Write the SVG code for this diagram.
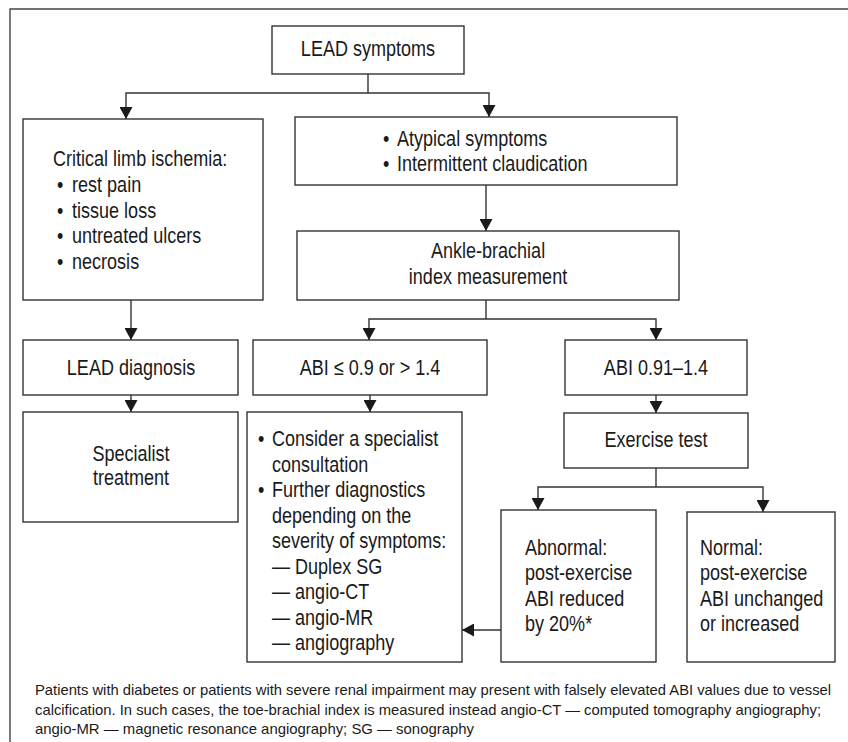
<svg xmlns="http://www.w3.org/2000/svg" width="848" height="742" viewBox="0 0 848 742">
  <defs>
    <marker id="arrow" markerUnits="userSpaceOnUse" markerWidth="13" markerHeight="13" refX="12" refY="6.5" orient="auto">
      <path d="M0,0 L12,6.5 L0,13 Z" fill="#1a1a1a"/>
    </marker>
    <style>
      .box { fill: #fff; stroke: #333; stroke-width: 1.4; }
      .frame { fill: none; stroke: #444; stroke-width: 1.4; }
      .link { fill: none; stroke: #333; stroke-width: 1.4; }
      .arr { marker-end: url(#arrow); }
      text { font-family: "Liberation Sans", Arial, sans-serif; fill: #1a1a1a; }
      .t { font-size: 22px; }
      .c { text-anchor: middle; }
      .note { font-size: 15px; }
    </style>
  </defs>

  <!-- outer frame (left and top edges) -->
  <path class="frame" d="M10,742 V9 H848"/>

  <!-- connectors -->
  <g id="connectors">
    <path class="link" d="M368,74 V93"/>
    <path class="link arr" d="M368,93 H126 V119"/>
    <path class="link arr" d="M368,93 H489 V117"/>
    <path class="link arr" d="M486,185 V231"/>
    <path class="link arr" d="M131,300 V340"/>
    <path class="link arr" d="M131,395 V412"/>
    <path class="link" d="M486,300 V319"/>
    <path class="link arr" d="M486,319 H369 V340"/>
    <path class="link arr" d="M486,319 H656 V340"/>
    <path class="link arr" d="M370,395 V412"/>
    <path class="link arr" d="M656,395 V413"/>
    <path class="link" d="M656,468 V487"/>
    <path class="link arr" d="M656,487 H538 V510"/>
    <path class="link arr" d="M656,487 H763 V512"/>
    <path class="link arr" d="M501,630 H462"/>
  </g>

  <!-- text is set in a condensed cut: Liberation Sans squeezed horizontally -->
  <g id="lead-symptoms">
    <rect class="box" x="272" y="26" width="192" height="48"/>
    <text class="t c" transform="translate(368,56) scale(0.82,1)">LEAD symptoms</text>
  </g>

  <g id="critical-limb-ischemia">
    <rect class="box" x="23" y="119" width="240" height="181"/>
    <text class="t" transform="translate(53,166) scale(0.82,1)">Critical limb ischemia:</text>
    <text class="t" transform="translate(57,192) scale(0.82,1)">•</text>
    <text class="t" transform="translate(72,192) scale(0.82,1)">rest pain</text>
    <text class="t" transform="translate(57,217.5) scale(0.82,1)">•</text>
    <text class="t" transform="translate(72,217.5) scale(0.82,1)">tissue loss</text>
    <text class="t" transform="translate(57,243) scale(0.82,1)">•</text>
    <text class="t" transform="translate(72,243) scale(0.82,1)">untreated ulcers</text>
    <text class="t" transform="translate(57,268.5) scale(0.82,1)">•</text>
    <text class="t" transform="translate(72,268.5) scale(0.82,1)">necrosis</text>
  </g>

  <g id="atypical-symptoms">
    <rect class="box" x="295" y="117" width="382" height="68"/>
    <text class="t" transform="translate(383,146) scale(0.82,1)">•</text>
    <text class="t" transform="translate(397,146) scale(0.82,1)">Atypical symptoms</text>
    <text class="t" transform="translate(383,171) scale(0.82,1)">•</text>
    <text class="t" transform="translate(397,171) scale(0.82,1)">Intermittent claudication</text>
  </g>

  <g id="abi-measurement">
    <rect class="box" x="297" y="231" width="382" height="69"/>
    <text class="t c" transform="translate(488,258) scale(0.82,1)">Ankle-brachial</text>
    <text class="t c" transform="translate(488,284) scale(0.82,1)">index measurement</text>
  </g>

  <g id="lead-diagnosis">
    <rect class="box" x="23" y="340" width="215" height="55"/>
    <text class="t c" transform="translate(131,375) scale(0.82,1)">LEAD diagnosis</text>
  </g>

  <g id="abi-low-high">
    <rect class="box" x="253" y="340" width="234" height="55"/>
    <text class="t c" transform="translate(370,375) scale(0.82,1)">ABI ≤ 0.9 or &gt; 1.4</text>
  </g>

  <g id="abi-normal-range">
    <rect class="box" x="565" y="340" width="182" height="55"/>
    <text class="t c" transform="translate(656,375) scale(0.82,1)">ABI 0.91–1.4</text>
  </g>

  <g id="specialist-treatment">
    <rect class="box" x="23" y="412" width="215" height="110"/>
    <text class="t c" transform="translate(131,461) scale(0.82,1)">Specialist</text>
    <text class="t c" transform="translate(131,485) scale(0.82,1)">treatment</text>
  </g>

  <g id="specialist-consultation">
    <rect class="box" x="247" y="412" width="215" height="250"/>
    <text class="t" transform="translate(258,446) scale(0.82,1)">•</text>
    <text class="t" transform="translate(272,446) scale(0.82,1)">Consider a specialist</text>
    <text class="t" transform="translate(272,471.5) scale(0.82,1)">consultation</text>
    <text class="t" transform="translate(258,497) scale(0.82,1)">•</text>
    <text class="t" transform="translate(272,497) scale(0.82,1)">Further diagnostics</text>
    <text class="t" transform="translate(272,522.5) scale(0.82,1)">depending on the</text>
    <text class="t" transform="translate(272,548) scale(0.82,1)">severity of symptoms:</text>
    <text class="t" transform="translate(272,573.5) scale(0.82,1)">— Duplex SG</text>
    <text class="t" transform="translate(272,599) scale(0.82,1)">— angio-CT</text>
    <text class="t" transform="translate(272,624.5) scale(0.82,1)">— angio-MR</text>
    <text class="t" transform="translate(272,650) scale(0.82,1)">— angiography</text>
  </g>

  <g id="exercise-test">
    <rect class="box" x="564" y="413" width="184" height="55"/>
    <text class="t c" transform="translate(656,447) scale(0.82,1)">Exercise test</text>
  </g>

  <g id="abnormal-result">
    <rect class="box" x="501" y="510" width="155" height="152"/>
    <text class="t" transform="translate(525,555) scale(0.82,1)">Abnormal:</text>
    <text class="t" transform="translate(525,580) scale(0.82,1)">post-exercise</text>
    <text class="t" transform="translate(525,605.5) scale(0.82,1)">ABI reduced</text>
    <text class="t" transform="translate(525,631) scale(0.82,1)">by 20%*</text>
  </g>

  <g id="normal-result">
    <rect class="box" x="687" y="512" width="148" height="150"/>
    <text class="t" transform="translate(700,555) scale(0.82,1)">Normal:</text>
    <text class="t" transform="translate(700,580) scale(0.82,1)">post-exercise</text>
    <text class="t" transform="translate(700,605.5) scale(0.82,1)">ABI unchanged</text>
    <text class="t" transform="translate(700,631) scale(0.82,1)">or increased</text>
  </g>

  <g id="footnote">
    <text class="note" x="35" y="695" textLength="796" lengthAdjust="spacingAndGlyphs">Patients with diabetes or patients with severe renal impairment may present with falsely elevated ABI values due to vessel</text>
    <text class="note" x="35" y="715" textLength="786" lengthAdjust="spacingAndGlyphs">calcification. In such cases, the toe-brachial index is measured instead angio-CT — computed tomography angiography;</text>
    <text class="note" x="35" y="734" textLength="439" lengthAdjust="spacingAndGlyphs">angio-MR — magnetic resonance angiography; SG — sonography</text>
  </g>
</svg>
